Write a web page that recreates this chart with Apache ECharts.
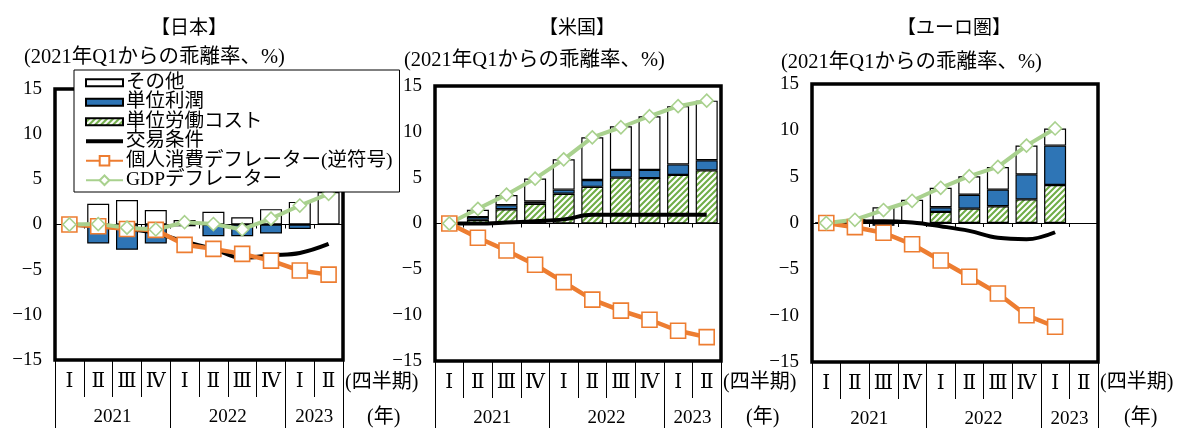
<!DOCTYPE html>
<html>
<head>
<meta charset="utf-8">
<script src="https://cdn.jsdelivr.net/npm/echarts@6/dist/echarts.min.js"></script>
<style>
  html, body { margin: 0; padding: 0; background: #fff; }
  #chart { width: 1180px; height: 428px; }
</style>
</head>
<body>
<div id="chart"></div>
<script>
// ---- data (deviation from 2021 Q1, %) ----
const quarters = ['Ⅰ', 'Ⅱ', 'Ⅲ', 'Ⅳ', 'Ⅰ', 'Ⅱ', 'Ⅲ', 'Ⅳ', 'Ⅰ', 'Ⅱ'];
const years = ['2021', '2022', '2023'];
const quartersPerYear = [4, 4, 2];
const panelTitles = ['【日本】', '【米国】', '【ユーロ圏】'];
const unitLabel = '(2021年Q1からの乖離率、%)';
const seriesNames = ['その他', '単位利潤', '単位労働コスト', '交易条件', '個人消費デフレーター(逆符号)', 'GDPデフレーター'];

// Japan
const jpOther  = [0, 2.3, 2.7, 1.6, 0.5, 1.4, 0.8, 1.7, 2.5, 3.6];
const jpProfit = [0, -2.1, -2.8, -2.1, -0.2, -1.3, -1.3, -1.0, -0.5, 0];
const jpLabor  = [0, 0, 0, 0, 0, 0, 0, 0, 0, 0];
const jpTot    = [0, -0.2, -0.5, -0.95, -1.9, -2.7, -3.7, -3.4, -3.15, -2.15];
const jpPce    = [0, -0.2, -0.5, -0.6, -2.25, -2.7, -3.25, -4.0, -5.1, -5.55];
const jpGdp    = [0, 0.05, -0.35, -0.55, 0.25, 0.05, -0.55, 0.65, 2.1, 3.4];

// United States
const usOther  = [0, 0.8, 1.1, 2.5, 3.3, 4.65, 4.75, 5.85, 6.35, 6.5];
const usProfit = [0, 0.3, 0.45, 0.25, 0.45, 0.75, 0.85, 0.9, 1.15, 1.1];
const usLabor  = [0, 0.4, 1.55, 2.15, 3.25, 4.0, 5.0, 4.95, 5.3, 5.8];
const usTot    = [0, 0.0, 0.1, 0.25, 0.45, 0.95, 0.95, 0.95, 0.95, 0.95];
const usPce    = [0, -1.55, -2.95, -4.5, -6.4, -8.3, -9.5, -10.5, -11.7, -12.4];
const usGdp    = [0, 1.6, 3.15, 4.9, 7.0, 9.4, 10.5, 11.7, 12.8, 13.4];

// Euro area
const euOther  = [0, 0.1, 1.7, 2.5, 2.1, 2.0, 2.45, 3.1, 1.85, null];
const euProfit = [0, 0.3, -0.3, -0.1, 0.5, 1.5, 1.8, 2.7, 4.25, null];
const euLabor  = [0, 0, 0, 0, 1.2, 1.55, 1.8, 2.55, 4.1, null];
const euTot    = [0, 0.15, 0.2, 0.05, -0.35, -0.85, -1.6, -1.75, -1.0, null];
const euPce    = [0, -0.45, -1.05, -2.3, -4.05, -5.8, -7.6, -9.95, -11.2, null];
const euGdp    = [0, 0.35, 1.4, 2.4, 3.8, 5.05, 6.05, 8.35, 10.2, null];

const yMin = -15, yMax = 15, yStep = 5;

const panels = [
  { other: jpOther, profit: jpProfit, labor: jpLabor, tot: jpTot, pce: jpPce, gdp: jpGdp },
  { other: usOther, profit: usProfit, labor: usLabor, tot: usTot, pce: usPce, gdp: usGdp },
  { other: euOther, profit: euProfit, labor: euLabor, tot: euTot, pce: euPce, gdp: euGdp }
];

// ---- layout & style ----
const FONT = "'Liberation Serif','DejaVu Serif','Noto Sans CJK JP',serif";
const FS = 19;
const layouts = [
  { left: 55,  top: 89, width: 288, height: 271, titleX: 189, subX: 24,  subY: 58, qX: 345,  yrX: 367 },
  { left: 435, top: 86, width: 286, height: 275, titleX: 577, subX: 404, subY: 61, qX: 723,  yrX: 746 },
  { left: 812, top: 84, width: 286, height: 278, titleX: 954, subX: 781, subY: 63, qX: 1100, yrX: 1124 }
];
const C_BLUE = '#2E75B6', C_GREEN = '#70AD47', C_ORANGE = '#ED7D31', C_LGREEN = '#A9D18E';

function hatch() {
  const s = 6;
  const c = document.createElement('canvas');
  c.width = s; c.height = s;
  const g = c.getContext('2d');
  g.fillStyle = '#fff';
  g.fillRect(0, 0, s, s);
  g.strokeStyle = C_GREEN;
  g.lineWidth = 2.1;
  g.beginPath();
  for (let k = -1; k <= 1; k++) {
    g.moveTo(k * s - 1, s + 1);
    g.lineTo(k * s + s + 1, -1);
  }
  g.stroke();
  return { image: c, repeat: 'repeat' };
}
const hatchFill = hatch();

// year boundaries and label positions on the 0..N quarter scale
const yearEdges = [0];
quartersPerYear.forEach(n => yearEdges.push(yearEdges[yearEdges.length - 1] + n));
const yearMids = years.map((y, i) => (yearEdges[i] + yearEdges[i + 1]) / 2);
const totalQ = yearEdges[yearEdges.length - 1];

const grids = [], xAxes = [], yAxes = [], series = [], graphics = [];

panels.forEach((p, i) => {
  const L = layouts[i];
  grids.push({
    left: L.left, top: L.top, width: L.width, height: L.height,
    show: true, borderColor: '#000', borderWidth: 3.5, backgroundColor: 'transparent',
    containLabel: false, outerBoundsMode: 'none'
  });
  // quarter row
  xAxes.push({
    type: 'category', gridIndex: i, data: quarters, position: 'bottom',
    axisLine: { show: false, onZero: false },
    axisTick: { show: true, interval: 0, length: 37, lineStyle: { color: '#000', width: 1 } },
    axisLabel: { interval: 0, margin: 12, color: '#000', fontSize: 20, fontFamily: FONT },
    splitLine: { show: false }
  });
  // year row
  xAxes.push({
    type: 'value', gridIndex: i, min: 0, max: totalQ, position: 'bottom',
    axisLine: { show: false, onZero: false },
    axisTick: { show: true, customValues: yearEdges, length: 72, lineStyle: { color: '#000', width: 1 } },
    axisLabel: {
      customValues: yearMids, margin: 48, color: '#000', fontSize: FS, fontFamily: FONT,
      formatter: v => years[yearMids.indexOf(v)] || ''
    },
    splitLine: { show: false }
  });
  // zero line with small inner ticks
  xAxes.push({
    type: 'category', gridIndex: i, data: quarters,
    axisLine: { show: true, onZero: true, lineStyle: { color: '#000', width: 1 } },
    axisTick: { show: true, inside: true, interval: 0, length: 4, lineStyle: { color: '#000', width: 1 } },
    axisLabel: { show: false },
    splitLine: { show: false }
  });
  yAxes.push({
    type: 'value', gridIndex: i, min: yMin, max: yMax, interval: yStep,
    axisLine: { show: false }, axisTick: { show: false }, splitLine: { show: false },
    axisLabel: {
      margin: 13, color: '#000', fontSize: FS, fontFamily: FONT,
      formatter: v => String(v).replace('-', '−')
    }
  });

  const xi = i * 3, st = 'stack' + i;
  const barBase = { type: 'bar', xAxisIndex: xi, yAxisIndex: i, stack: st, barWidth: 22 };
  series.push(Object.assign({}, barBase, {
    name: seriesNames[2], data: p.labor,
    itemStyle: { color: hatchFill, borderColor: '#000', borderWidth: 1.2 }
  }));
  series.push(Object.assign({}, barBase, {
    name: seriesNames[1], data: p.profit,
    itemStyle: { color: C_BLUE, borderColor: '#000', borderWidth: 1.2 }
  }));
  series.push(Object.assign({}, barBase, {
    name: seriesNames[0], data: p.other,
    itemStyle: { color: '#fff', borderColor: '#000', borderWidth: 1.2 }
  }));
  series.push({
    type: 'line', name: seriesNames[3], xAxisIndex: xi, yAxisIndex: i, data: p.tot,
    smooth: 0.4, symbol: 'none', showSymbol: false,
    itemStyle: { color: '#000' }, lineStyle: { color: '#000', width: 4 }
  });
  series.push({
    type: 'line', name: seriesNames[4], xAxisIndex: xi, yAxisIndex: i, data: p.pce,
    symbol: 'rect', symbolSize: 15,
    itemStyle: { color: '#fff', borderColor: C_ORANGE, borderWidth: 1.6 },
    lineStyle: { color: C_ORANGE, width: 4.5 }
  });
  series.push({
    type: 'line', name: seriesNames[5], xAxisIndex: xi, yAxisIndex: i, data: p.gdp,
    symbol: 'diamond', symbolSize: 13,
    itemStyle: { color: '#fff', borderColor: C_LGREEN, borderWidth: 1.6 },
    lineStyle: { color: C_LGREEN, width: 4 }
  });

  const txt = (text, x, y, align, size) => ({
    type: 'text', x: x, y: y, silent: true,
    style: { text: text, fill: '#000', font: (size || FS) + 'px ' + FONT, align: align, verticalAlign: 'middle' }
  });
  graphics.push(txt(panelTitles[i], L.titleX, 29, 'center', 19));
  graphics.push(txt(unitLabel, L.subX, L.subY, 'left', 20.5));
  graphics.push(txt('(四半期)', L.qX, 383, 'left', 20));
  graphics.push(txt('(年)', L.yrX, 418, 'left', 20));
});

const barIcon = 'path://M0,0H37V7H0Z';
const lineIcon = 'path://M0,0H37V4H0Z';

const option = {
  animation: false,
  backgroundColor: '#fff',
  textStyle: { fontFamily: FONT },
  grid: grids,
  xAxis: xAxes,
  yAxis: yAxes,
  series: series,
  graphic: graphics,
  legend: {
    orient: 'vertical', left: 74, top: 70,
    backgroundColor: '#fff', borderColor: '#000', borderWidth: 1,
    padding: [3, 7, 2, 11], itemGap: 0, itemWidth: 37, itemHeight: 12,
    selectedMode: false,
    textStyle: { color: '#000', fontSize: 19.5, lineHeight: 19, fontFamily: FONT, padding: [0, 0, 0, -2] },
    data: [
      { name: seriesNames[0], icon: barIcon },
      { name: seriesNames[1], icon: barIcon },
      { name: seriesNames[2], icon: barIcon },
      { name: seriesNames[3], icon: lineIcon },
      { name: seriesNames[4] },
      { name: seriesNames[5] }
    ]
  }
};

const chart = echarts.init(document.getElementById('chart'), null, { renderer: 'canvas' });
chart.setOption(option);
</script>
</body>
</html>
